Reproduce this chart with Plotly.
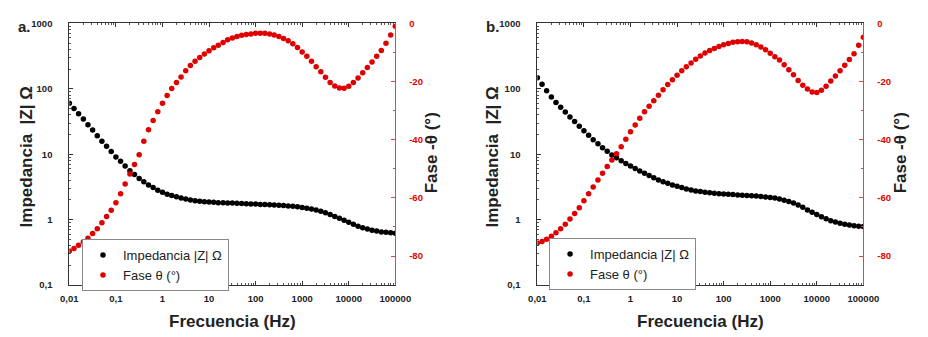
import plotly.graph_objects as go

# ---------------- data ----------------
freq_hz = [
    0.01, 0.0126, 0.0158, 0.02, 0.0251, 0.0316, 0.0398, 0.0501, 0.0631, 0.0794,
    0.1, 0.126, 0.158, 0.2, 0.251, 0.316, 0.398, 0.501, 0.631, 0.794,
    1, 1.26, 1.58, 2.0, 2.51, 3.16, 3.98, 5.01, 6.31, 7.94,
    10, 12.6, 15.8, 20, 25.1, 31.6, 39.8, 50.1, 63.1, 79.4,
    100, 126, 158, 200, 251, 316, 398, 501, 631, 794,
    1000, 1259, 1585, 1995, 2512, 3162, 3981, 5012, 6310, 7943,
    10000, 12589, 15849, 19953, 25119, 31623, 39811, 50119, 63096, 79433,
    100000,
]

impedance_a = [
    60, 50, 41.7, 34.7, 28.2, 23.4, 19.1, 15.8, 13.2, 11.0,
    9.1, 7.8, 6.6, 5.6, 4.9, 4.27, 3.8, 3.39, 3.09, 2.82,
    2.63, 2.45, 2.34, 2.24, 2.14, 2.07, 2.0, 1.95, 1.91, 1.88,
    1.86, 1.84, 1.82, 1.81, 1.80, 1.79, 1.78, 1.77, 1.75, 1.74,
    1.73, 1.71, 1.70, 1.69, 1.67, 1.66, 1.64, 1.62, 1.60, 1.57,
    1.54, 1.50, 1.46, 1.41, 1.35, 1.27, 1.20, 1.12, 1.05, 0.98,
    0.91, 0.85, 0.79, 0.75, 0.72, 0.69, 0.67, 0.65, 0.64, 0.63,
    0.62,
]

phase_a = [
    -78.3, -77.4, -76.3, -75.1, -73.9, -72.3, -70.6, -68.6, -66.4, -64.3,
    -61.7, -58.6, -55.2, -51.8, -48.5, -45.2, -40.5, -36.6, -33.4, -30.4,
    -27.5, -24.8, -22.4, -20.3, -18.4, -16.3, -14.5, -13.0, -11.7, -10.5,
    -9.4, -8.4, -7.5, -6.6, -5.6, -5.0, -4.5, -4.1, -3.8, -3.6,
    -3.4, -3.4, -3.4, -3.6, -4.0, -4.5, -5.2, -6.0, -7.0, -8.3,
    -9.8, -11.3, -13.0, -14.9, -16.6, -18.5, -20.3, -21.5, -22.2, -22.3,
    -21.6, -20.3, -18.8, -17.0, -15.2, -13.3, -11.3, -9.3, -6.8, -4.0,
    -1.0,
]

impedance_b = [
    147.9, 117.5, 93.3, 75.0, 61.7, 52.5, 44.2, 37.2, 31.6, 26.9,
    22.9, 19.5, 16.6, 14.5, 12.6, 11.1, 9.77, 8.81, 7.94, 7.24,
    6.61, 6.03, 5.56, 5.13, 4.73, 4.37, 4.03, 3.80, 3.59, 3.39,
    3.24, 3.09, 2.95, 2.85, 2.75, 2.69, 2.63, 2.58, 2.54, 2.50,
    2.47, 2.44, 2.42, 2.39, 2.37, 2.34, 2.32, 2.29, 2.26, 2.23,
    2.19, 2.14, 2.07, 1.98, 1.89, 1.80, 1.68, 1.55, 1.41, 1.30,
    1.20, 1.11, 1.035, 0.966, 0.923, 0.881, 0.851, 0.826, 0.807, 0.794,
    0.785,
]

phase_b = [
    -75.5, -75.0, -74.2, -73.2, -72.0, -70.6, -69.1, -67.3, -65.4, -63.4,
    -61.0, -58.6, -56.3, -53.9, -51.5, -49.2, -47.0, -44.8, -42.4, -39.8,
    -37.3, -34.9, -32.6, -30.4, -28.5, -26.6, -24.7, -22.8, -21.0, -19.4,
    -17.8, -16.3, -14.9, -13.6, -12.3, -11.2, -10.2, -9.3, -8.6, -7.9,
    -7.3, -6.9, -6.5, -6.3, -6.2, -6.3, -6.7, -7.3, -8.1, -9.1,
    -10.3, -11.5, -12.6, -14.2, -15.9, -17.7, -19.6, -21.3, -22.6, -23.6,
    -23.8, -23.0, -21.6, -19.8, -18.1, -16.3, -14.4, -12.4, -10.4, -7.5,
    -4.8,
]

x_tickvals = [0.01, 0.1, 1, 10, 100, 1000, 10000, 100000]
x_ticktext = ["0,01", "0,1", "1", "10", "100", "1000", "10000", "100000"]
y_tickvals = [0.1, 1, 10, 100, 1000]
y_ticktext = ["0,1", "1", "10", "100", "1000"]
p_tickvals = [0, -20, -40, -60, -80]
p_ticktext = ["0", "-20", "-40", "-60", "-80"]

name_z = "Impedancia |Z| Ω"
name_p = "Fase θ (°)"

# ---------------- style ----------------
FONT = "Liberation Sans, Arial, sans-serif"
RED = "#e00000"
AXRED = "#d84a4a"
W, H = 928, 337

def px_x(p):
    return p / W

def px_y(p):
    return 1 - p / H

minor_log_x = [m * 10 ** e for e in range(-2, 5) for m in range(2, 10)]
minor_log_y = [m * 10 ** e for e in range(-1, 3) for m in range(2, 10)]

fig = go.Figure()

marker_size = 5.5
fig.add_trace(go.Scatter(x=freq_hz, y=impedance_a, mode="markers", name=name_z,
                         marker=dict(color="black", size=marker_size),
                         xaxis="x", yaxis="y", legend="legend"))
fig.add_trace(go.Scatter(x=freq_hz, y=phase_a, mode="markers", name=name_p,
                         marker=dict(color=RED, size=marker_size),
                         xaxis="x", yaxis="y2", legend="legend"))
fig.add_trace(go.Scatter(x=freq_hz, y=impedance_b, mode="markers", name=name_z,
                         marker=dict(color="black", size=marker_size),
                         xaxis="x2", yaxis="y3", legend="legend2"))
fig.add_trace(go.Scatter(x=freq_hz, y=phase_b, mode="markers", name=name_p,
                         marker=dict(color=RED, size=marker_size),
                         xaxis="x2", yaxis="y4", legend="legend2"))

tickfont = dict(family=FONT, size=9.5, color="#222", weight="bold")

def xaxis_def(domain, anchor):
    return dict(
        type="log", range=[-2, 5], domain=domain, anchor=anchor,
        tickvals=x_tickvals, ticktext=x_ticktext, tickfont=tickfont,
        ticks="inside", ticklen=4, tickcolor="#333", tickwidth=1,
        showline=True, linecolor="#333", linewidth=1, mirror="ticks",
        showgrid=False, zeroline=False, ticklabelstandoff=5,
        minor=dict(tickvals=minor_log_x, ticks="inside", ticklen=2, tickcolor="#555", showgrid=False),
    )

def ylog_def(domain, anchor):
    return dict(
        type="log", range=[-1, 3], domain=domain, anchor=anchor,
        tickvals=y_tickvals, ticktext=y_ticktext, tickfont=tickfont,
        ticks="inside", ticklen=4, tickcolor="#333", tickwidth=1,
        showline=True, linecolor="#333", linewidth=1,
        showgrid=False, zeroline=False, ticklabelstandoff=14,
        minor=dict(tickvals=minor_log_y, ticks="inside", ticklen=2, tickcolor="#555", showgrid=False),
    )

def yphase_def(overlay, anchor):
    return dict(
        range=[-90, 0], overlaying=overlay, anchor=anchor, side="right",
        tickvals=p_tickvals, ticktext=p_ticktext,
        tickfont=dict(family=FONT, size=9.5, color=RED, weight="bold"),
        ticks="inside", ticklen=4, tickcolor=AXRED,
        showline=True, linecolor=AXRED, linewidth=1,
        showgrid=False, zeroline=False, ticklabelstandoff=11,
        minor=dict(dtick=10, ticks="inside", ticklen=2, tickcolor=AXRED, showgrid=False),
    )

ydom = [px_y(288.5), px_y(18)]

legend_style = dict(
    font=dict(family=FONT, size=13, color="#222"),
    bordercolor="#888", borderwidth=1, bgcolor="rgba(255,255,255,1)",
    xanchor="left", yanchor="top", xref="paper", yref="paper",
    itemsizing="trace", tracegroupgap=0,
)

fig.update_layout(
    width=W, height=H,
    margin=dict(l=0, r=0, t=0, b=0),
    paper_bgcolor="white", plot_bgcolor="white",
    font=dict(family=FONT),
    xaxis=xaxis_def([px_x(62), px_x(397)], "y"),
    yaxis=ylog_def(ydom, "x"),
    yaxis2=yphase_def("y", "x"),
    xaxis2=xaxis_def([px_x(543), px_x(878)], "y3"),
    yaxis3=ylog_def(ydom, "x2"),
    yaxis4=yphase_def("y3", "x2"),
    legend=dict(x=px_x(75), y=px_y(241), **legend_style),
    legend2=dict(x=px_x(555), y=px_y(240), **legend_style),
)

title_font = dict(family=FONT, size=17, color="#222")
label_font = dict(family=FONT, size=15, color="#222")

annotations = [
    # panel labels
    dict(text="<b>a.</b>", x=px_x(16), y=px_y(21), font=label_font),
    dict(text="<b>b.</b>", x=px_x(497), y=px_y(21), font=label_font),
    # x titles
    dict(text="<b>Frecuencia (Hz)</b>", x=px_x(229.5), y=px_y(326), font=title_font),
    dict(text="<b>Frecuencia (Hz)</b>", x=px_x(711), y=px_y(326), font=title_font),
    # left y titles
    dict(text="<b>Impedancia  |Z| Ω</b>", x=px_x(18), y=px_y(156), font=title_font, textangle=-90),
    dict(text="<b>Impedancia  |Z| Ω</b>", x=px_x(497), y=px_y(156), font=title_font, textangle=-90),
    # right y titles
    dict(text="<b>Fase -θ (°)</b>", x=px_x(434), y=px_y(152), font=title_font, textangle=-90),
    dict(text="<b>Fase -θ (°)</b>", x=px_x(916), y=px_y(152), font=title_font, textangle=-90),
]
for a in annotations:
    a.update(xref="paper", yref="paper", showarrow=False, xanchor="center", yanchor="middle")
fig.update_layout(annotations=annotations)

fig.write_html("out.html")
